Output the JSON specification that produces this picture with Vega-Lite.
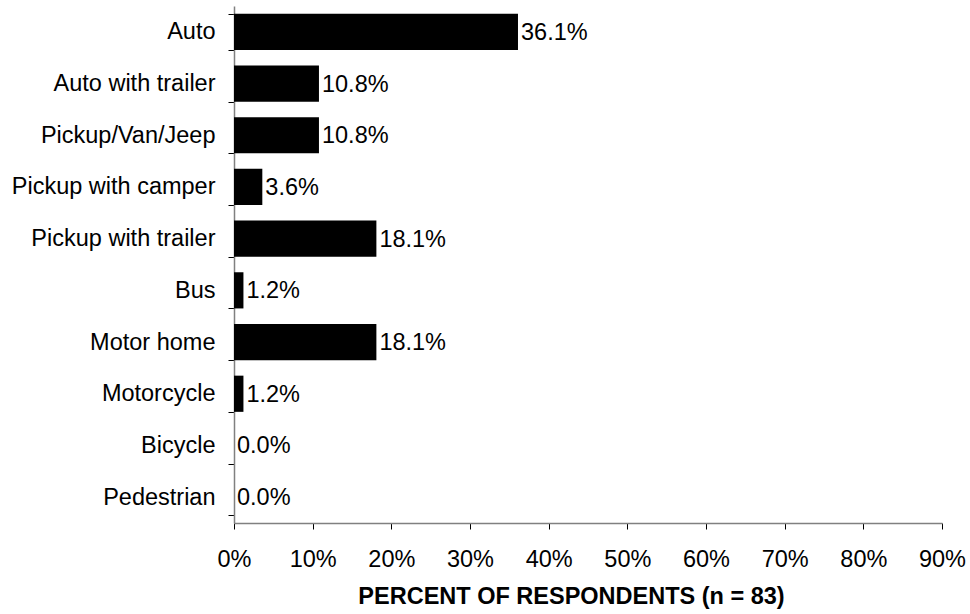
{
  "$schema": "https://vega.github.io/schema/vega-lite/v6.json",
  "autosize": "none",
  "width": 708,
  "height": 517,
  "padding": {"left": 234, "top": 6, "right": 28, "bottom": 91},
  "background": "white",
  "config": {
    "view": {"stroke": null},
    "font": "Liberation Sans",
    "axis": {"grid": false, "labelFont": "Liberation Sans", "titleFont": "Liberation Sans", "labelColor": "black", "titleColor": "black", "domainColor": "#808080", "domainWidth": 1.5, "tickColor": "black", "tickSize": 6}
  },
  "data": {
    "values": [
      {"mode": "Auto", "pct": 0.361},
      {"mode": "Auto with trailer", "pct": 0.108},
      {"mode": "Pickup/Van/Jeep", "pct": 0.108},
      {"mode": "Pickup with camper", "pct": 0.036},
      {"mode": "Pickup with trailer", "pct": 0.181},
      {"mode": "Bus", "pct": 0.012},
      {"mode": "Motor home", "pct": 0.181},
      {"mode": "Motorcycle", "pct": 0.012},
      {"mode": "Bicycle", "pct": 0.0},
      {"mode": "Pedestrian", "pct": 0.0}
    ]
  },
  "encoding": {
    "y": {
      "field": "mode", "type": "nominal", "sort": null,
      "scale": {"paddingInner": 0.3, "paddingOuter": 0.15},
      "axis": {"title": null, "labelFontSize": 23.5, "labelPadding": 13, "tickBand": "extent", "labelLimit": 300}
    },
    "x": {
      "field": "pct", "type": "quantitative",
      "scale": {"domain": [0, 0.9], "nice": false},
      "axis": {"values": [0, 0.1, 0.2, 0.3, 0.4, 0.5, 0.6, 0.7, 0.8, 0.9], "format": ".0%", "labelFontSize": 23.5, "labelPadding": 18, "labelFlush": false, "labelOverlap": false, "title": "PERCENT OF RESPONDENTS (n = 83)", "titleFontSize": 23.5, "titleFontWeight": "bold", "titlePadding": 14, "titleAnchor": "start", "titleAlign": "center", "titleX": 337}
    }
  },
  "layer": [
    {"mark": {"type": "bar", "color": "black"}},
    {"mark": {"type": "text", "align": "left", "dx": 3, "dy": 1, "fontSize": 23.5, "color": "black", "baseline": "middle"},
     "encoding": {"text": {"field": "pct", "type": "quantitative", "format": ".1%"}}}
  ]
}
